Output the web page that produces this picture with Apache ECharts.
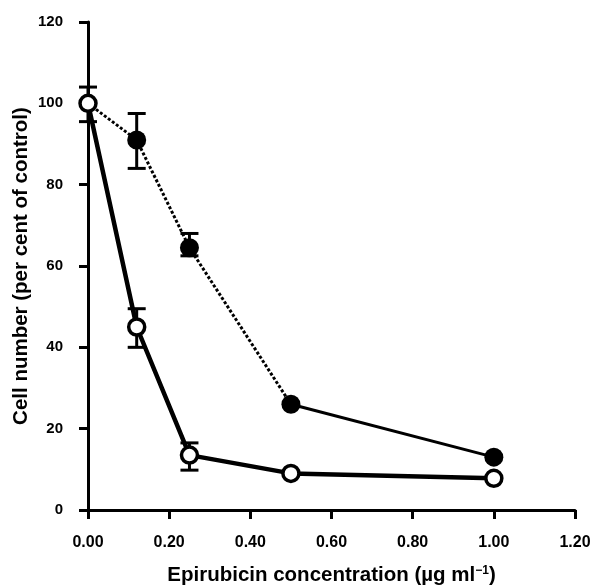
<!DOCTYPE html>
<html>
<head>
<meta charset="utf-8">
<script src="https://cdn.jsdelivr.net/npm/echarts@6/dist/echarts.min.js"></script>
<style>
  html, body { margin: 0; padding: 0; background: #fff; }
  #chart { width: 595px; height: 585px; }
</style>
</head>
<body>
<div id="chart"></div>
<script>
// concentrations (µg/ml)
var conc = [0, 0.12, 0.25, 0.5, 1.0];
// filled circles
var filledVals = [100, 91, 64.5, 26, 13];
var filledLow = [null, 84, 62.5, null, null];
var filledHigh = [null, 97.5, 68, null, null];
// open circles
var openVals = [100, 45, 13.5, 9, 7.8];
var openLow = [95.5, 40, 9.8, null, null];
var openHigh = [104, 49.5, 16.5, null, null];

function pairs(xs, ys, from, to) {
    var out = [];
    for (var i = from; i <= to; i++) out.push([xs[i], ys[i]]);
    return out;
}
function errData(xs, lo, hi) {
    var out = [];
    for (var i = 0; i < xs.length; i++) {
        if (lo[i] != null) out.push([xs[i], lo[i], hi[i]]);
    }
    return out;
}

// vertical bar with caps at both ends
function renderErr(params, api) {
    var x = api.value(0);
    var lo = api.coord([x, api.value(1)]);
    var hi = api.coord([x, api.value(2)]);
    var cap = 9;
    var style = { stroke: '#000', lineWidth: 3 };
    return {
        type: 'group',
        children: [
            { type: 'line', shape: { x1: hi[0], y1: hi[1], x2: lo[0], y2: lo[1] }, style: style },
            { type: 'line', shape: { x1: hi[0] - cap, y1: hi[1], x2: hi[0] + cap, y2: hi[1] }, style: style },
            { type: 'line', shape: { x1: lo[0] - cap, y1: lo[1], x2: lo[0] + cap, y2: lo[1] }, style: style }
        ]
    };
}

var myChart = echarts.init(document.getElementById('chart'));
var font = 'Liberation Sans, Arial, sans-serif';
var option = {
    animation: false,
    grid: { left: 88, right: 20, top: 22, bottom: 75, containLabel: false, outerBoundsMode: 'none' },
    xAxis: {
        type: 'value',
        min: 0,
        max: 1.2,
        interval: 0.2,
        name: 'Epirubicin concentration (µg ml{sup|−1})',
        nameLocation: 'middle',
        nameGap: 55,
        nameTextStyle: {
            fontFamily: font, fontWeight: 'bold', fontSize: 20.5, color: '#000',
            rich: { sup: { fontFamily: font, fontWeight: 'bold', fontSize: 12, color: '#000', verticalAlign: 'top', padding: [0, 0, 9, 0] } }
        },
        axisLine: { lineStyle: { color: '#000', width: 3 } },
        axisTick: { length: 9, lineStyle: { color: '#000', width: 3 } },
        splitLine: { show: false },
        axisLabel: {
            margin: 25,
            fontFamily: font, fontWeight: 'bold', fontSize: 16, color: '#000',
            formatter: function (v) { return v.toFixed(2); }
        }
    },
    yAxis: {
        type: 'value',
        min: 0,
        max: 120,
        interval: 20,
        name: 'Cell number (per cent of control)',
        nameLocation: 'middle',
        nameGap: 56,
        nameMoveOverlap: false,
        nameTextStyle: { fontFamily: font, fontWeight: 'bold', fontSize: 20.5, color: '#000' },
        axisLine: { show: true, lineStyle: { color: '#000', width: 3 } },
        axisTick: { show: true, length: 9, lineStyle: { color: '#000', width: 3 } },
        splitLine: { show: false },
        axisLabel: { margin: 25, fontFamily: font, fontWeight: 'bold', fontSize: 15, color: '#000' }
    },
    series: [
        {
            type: 'custom',
            renderItem: renderErr,
            data: errData(conc, filledLow, filledHigh),
            z: 1
        },
        {
            type: 'custom',
            renderItem: renderErr,
            data: errData(conc, openLow, openHigh),
            z: 1
        },
        {
            type: 'line',
            data: pairs(conc, filledVals, 0, 3),
            lineStyle: { color: '#000', width: 3, type: [3, 2] },
            symbol: 'none',
            z: 2
        },
        {
            type: 'line',
            data: pairs(conc, filledVals, 3, 4),
            lineStyle: { color: '#000', width: 3 },
            symbol: 'none',
            z: 2
        },
        {
            type: 'line',
            data: pairs(conc, openVals, 0, 4),
            lineStyle: { color: '#000', width: 4.5 },
            symbol: 'none',
            z: 3
        },
        {
            type: 'scatter',
            data: pairs(conc, filledVals, 1, 4),
            symbol: 'circle',
            symbolSize: 19,
            itemStyle: { color: '#000', opacity: 1 },
            z: 4
        },
        {
            type: 'scatter',
            data: pairs(conc, openVals, 0, 4),
            symbol: 'circle',
            symbolSize: 16,
            itemStyle: { color: '#fff', borderColor: '#000', borderWidth: 3.5, opacity: 1 },
            z: 5
        }
    ]
};
myChart.setOption(option);
</script>
</body>
</html>
